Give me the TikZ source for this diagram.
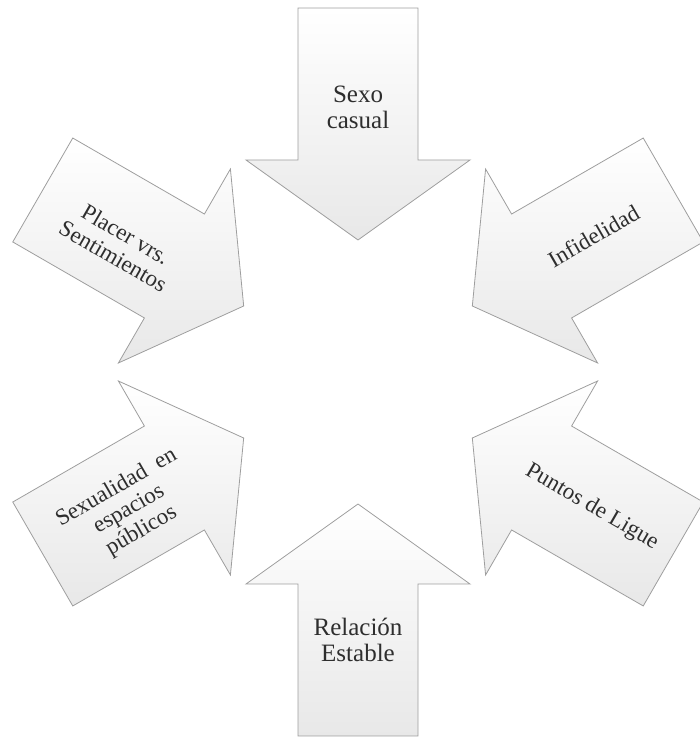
\documentclass[tikz,border=0pt]{standalone}
\usepackage{fontspec}
\setmainfont{Liberation Serif}
\usetikzlibrary{calc}
\begin{document}
\begin{tikzpicture}[x=1pt,y=1pt,
  blockarrow/.style={draw=black!38, line width=0.8pt, top color=white, bottom color=black!9},
  lbl/.style={font=\fontsize{23}{25}\selectfont, text=black!82, align=center, inner sep=0pt},
  biglbl/.style={lbl, font=\fontsize{25}{26}\selectfont}]
\useasboundingbox (0,0) rectangle (700,739);
\coordinate (c) at (358,367);
\foreach \a/\n in {90/top,30/ur,-30/lr,-90/bot,210/ll,150/ul}{
  \coordinate (t\n) at ($(c)+(\a:132)$);
  \path[blockarrow] (t\n) -- ($(t\n)+(\a:80)+(\a+90:112)$) -- ($(t\n)+(\a:80)+(\a+90:60)$)
    -- ($(t\n)+(\a:232)+(\a+90:60)$) -- ($(t\n)+(\a:232)+(\a-90:60)$)
    -- ($(t\n)+(\a:80)+(\a-90:60)$) -- ($(t\n)+(\a:80)+(\a-90:112)$) -- cycle;
}
\node[biglbl] (sexo) at ($(c)+(90:265)$) {Sexo\\casual};
\node[lbl, rotate=30] (infid) at ($(c)+(30:272)$) {Infidelidad};
\node[lbl, rotate=-30] (puntos) at ($(c)+(-30:270)$) {Puntos de Ligue};
\node[biglbl] (rel) at ($(c)+(-90:268)$) {Relación\\Estable};
\node[lbl, rotate=30] (sexual) at ($(c)+(211:267)$) {Sexualidad~ en\\espacios\\públicos};
\node[lbl, rotate=-30] (placer) at ($(c)+(152:270)$) {Placer vrs.\\Sentimientos};
\end{tikzpicture}
\end{document}
